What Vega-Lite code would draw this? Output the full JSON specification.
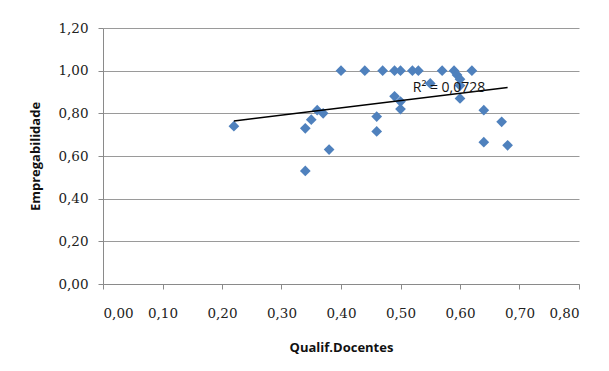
{
  "$schema": "https://vega.github.io/schema/vega-lite/v6.json",
  "width": 476,
  "height": 256,
  "autosize": {"type": "none"},
  "padding": {"left": 103, "top": 28, "right": 30, "bottom": 87},
  "background": "white",
  "config": {
    "view": {"stroke": null},
    "axis": {
      "domainColor": "#8a8a8a",
      "tickColor": "#8a8a8a",
      "tickSize": 5,
      "gridColor": "#9a9a9a",
      "gridWidth": 1,
      "labelColor": "#222222",
      "titleColor": "#111111"
    }
  },
  "data": {
    "values": [
      {"qualif": 0.22, "emp": 0.74},
      {"qualif": 0.34, "emp": 0.73},
      {"qualif": 0.35, "emp": 0.77},
      {"qualif": 0.36, "emp": 0.815},
      {"qualif": 0.37, "emp": 0.80},
      {"qualif": 0.38, "emp": 0.63},
      {"qualif": 0.34, "emp": 0.53},
      {"qualif": 0.40, "emp": 1.00},
      {"qualif": 0.44, "emp": 1.00},
      {"qualif": 0.47, "emp": 1.00},
      {"qualif": 0.49, "emp": 1.00},
      {"qualif": 0.50, "emp": 1.00},
      {"qualif": 0.52, "emp": 1.00},
      {"qualif": 0.53, "emp": 1.00},
      {"qualif": 0.57, "emp": 1.00},
      {"qualif": 0.59, "emp": 1.00},
      {"qualif": 0.62, "emp": 1.00},
      {"qualif": 0.55, "emp": 0.94},
      {"qualif": 0.49, "emp": 0.88},
      {"qualif": 0.50, "emp": 0.855},
      {"qualif": 0.50, "emp": 0.82},
      {"qualif": 0.595, "emp": 0.98},
      {"qualif": 0.60, "emp": 0.96},
      {"qualif": 0.60, "emp": 0.93},
      {"qualif": 0.60, "emp": 0.87},
      {"qualif": 0.64, "emp": 0.815},
      {"qualif": 0.67, "emp": 0.76},
      {"qualif": 0.68, "emp": 0.65},
      {"qualif": 0.64, "emp": 0.665},
      {"qualif": 0.46, "emp": 0.785},
      {"qualif": 0.46, "emp": 0.715}
    ]
  },
  "layer": [
    {
      "mark": {"type": "point", "shape": "diamond", "filled": true, "size": 115, "color": "#4F81BD", "opacity": 1},
      "encoding": {
        "x": {
          "field": "qualif",
          "type": "quantitative",
          "title": "Qualif.Docentes",
          "scale": {"domain": [0, 0.8], "nice": false, "zero": true},
          "axis": {
            "values": [0, 0.1, 0.2, 0.3, 0.4, 0.5, 0.6, 0.7, 0.8],
            "grid": false,
            "labelExpr": "replace(format(datum.value, '.2f'), '.', ',')",
            "labelFont": "DejaVu Serif",
            "labelFontSize": 13.5,
            "labelPadding": 17,
            "titleFont": "Open Sans",
            "titleFontSize": 13,
            "titleFontWeight": "bold",
            "titlePadding": 22
          }
        },
        "y": {
          "field": "emp",
          "type": "quantitative",
          "title": "Empregabilidade",
          "scale": {"domain": [0, 1.2], "nice": false},
          "axis": {
            "values": [0, 0.2, 0.4, 0.6, 0.8, 1.0, 1.2],
            "grid": true,
            "labelExpr": "replace(format(datum.value, '.2f'), '.', ',')",
            "labelFont": "DejaVu Serif",
            "labelFontSize": 13.5,
            "labelPadding": 10,
            "titleFont": "Open Sans",
            "titleFontSize": 13,
            "titleFontWeight": "bold",
            "titlePadding": 15
          }
        }
      }
    },
    {
      "transform": [
        {"regression": "emp", "on": "qualif", "extent": [0.22, 0.68]}
      ],
      "mark": {"type": "line", "color": "#000000", "strokeWidth": 1.5},
      "encoding": {
        "x": {"field": "qualif", "type": "quantitative"},
        "y": {"field": "emp", "type": "quantitative"}
      }
    },
    {
      "data": {"values": [{"label": "R² = 0,0728", "qualif": 0.5815, "emp": 0.919}]},
      "mark": {"type": "text", "font": "Open Sans", "fontSize": 14, "color": "#111111", "baseline": "middle", "align": "center"},
      "encoding": {
        "x": {"field": "qualif", "type": "quantitative"},
        "y": {"field": "emp", "type": "quantitative"},
        "text": {"field": "label"}
      }
    }
  ]
}
